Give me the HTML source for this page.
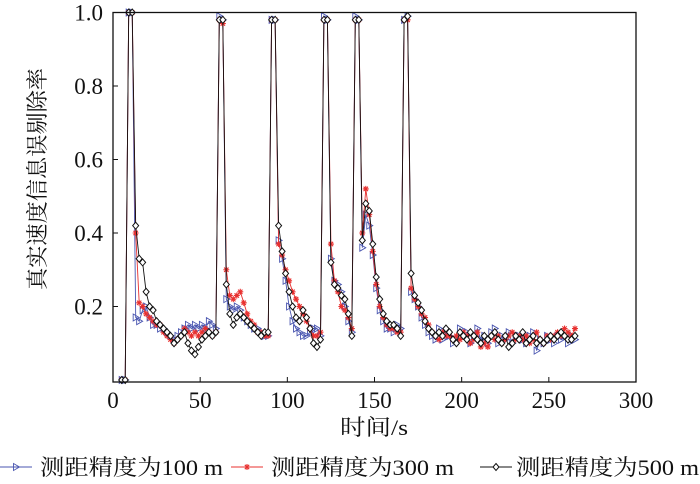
<!DOCTYPE html>
<html><head><meta charset="utf-8">
<style>
html,body{margin:0;padding:0;background:#fff;}
svg{display:block;}
text{font-family:"Liberation Serif","Noto Serif CJK SC",serif;fill:#111;}
</style></head>
<body>
<svg id="chart" width="700" height="484" viewBox="0 0 700 484"></svg>
<script>
const times=[5,7,9,11,13,15,17,19,21,23,25,27,29,31,33,35,37,39,41,43,45,47,49,51,53,55,57,59,61,63,65,67,69,71,73,75,77,79,81,83,85,87,89,91,93,95,97,99,101,103,105,107,109,111,113,115,117,119,121,123,125,127,129,131,133,135,137,139,141,143,145,147,149,151,153,155,157,159,161,163,165,167,169,171,173,175,177,179,181,183,185,187,189,191,193,195,197,199,201,203,205,207,209,211,213,215,217,219,221,223,225,227,229,231,233,235,237,239,241,243,245,247,249,251,253,255,257,259,261,263,265];
const s500=[0,0,1,1,0.42,0.33,0.32,0.24,0.2,0.19,0.16,0.15,0.14,0.13,0.12,0.1,0.11,0.12,0.13,0.1,0.08,0.07,0.09,0.11,0.12,0.13,0.12,0.13,0.98,0.98,0.26,0.18,0.15,0.17,0.18,0.17,0.16,0.15,0.14,0.13,0.12,0.13,0.13,0.98,0.98,0.42,0.35,0.29,0.24,0.2,0.17,0.16,0.19,0.17,0.14,0.1,0.09,0.11,0.98,0.98,0.32,0.26,0.25,0.23,0.22,0.18,0.12,0.98,0.98,0.38,0.48,0.46,0.37,0.28,0.22,0.18,0.16,0.15,0.15,0.14,0.12,0.98,0.99,0.29,0.23,0.21,0.19,0.16,0.14,0.13,0.12,0.13,0.12,0.14,0.13,0.11,0.1,0.13,0.12,0.11,0.13,0.12,0.11,0.1,0.12,0.11,0.12,0.13,0.11,0.1,0.12,0.09,0.1,0.12,0.11,0.13,0.1,0.11,0.12,0.1,0.11,0.1,0.11,0.12,0.11,0.12,0.13,0.12,0.11,0.11,0.12];
const s100=[0,0,1,1,0.17,0.16,0.19,0.2,0.17,0.15,0.15,0.14,0.14,0.13,0.12,0.11,0.12,0.13,0.14,0.15,0.14,0.15,0.14,0.15,0.14,0.16,0.15,0.14,0.99,0.98,0.22,0.2,0.19,0.2,0.19,0.17,0.16,0.15,0.14,0.14,0.13,0.12,0.12,0.98,0.98,0.38,0.33,0.27,0.2,0.16,0.14,0.13,0.12,0.12,0.13,0.14,0.14,0.12,0.99,0.98,0.33,0.27,0.26,0.24,0.2,0.16,0.13,0.99,0.98,0.36,0.45,0.42,0.34,0.25,0.19,0.16,0.14,0.14,0.13,0.15,0.14,0.98,0.99,0.24,0.22,0.2,0.17,0.15,0.13,0.12,0.11,0.14,0.11,0.13,0.12,0.1,0.11,0.14,0.12,0.13,0.1,0.12,0.14,0.11,0.12,0.1,0.13,0.14,0.1,0.12,0.11,0.13,0.1,0.12,0.12,0.11,0.1,0.12,0.13,0.08,0.11,0.1,0.12,0.11,0.1,0.12,0.11,0.12,0.1,0.12,0.11];
const s300=[0,0,1,1,0.4,0.21,0.2,0.18,0.17,0.16,0.15,0.15,0.13,0.12,0.11,0.1,0.11,0.12,0.14,0.13,0.12,0.13,0.12,0.13,0.14,0.13,0.12,0.13,0.98,0.97,0.3,0.23,0.22,0.23,0.24,0.21,0.18,0.16,0.15,0.13,0.13,0.12,0.12,0.98,0.98,0.37,0.34,0.3,0.27,0.24,0.22,0.2,0.18,0.16,0.14,0.12,0.12,0.13,0.98,0.98,0.37,0.27,0.24,0.2,0.19,0.17,0.14,0.98,0.98,0.4,0.52,0.45,0.35,0.26,0.2,0.17,0.15,0.14,0.14,0.13,0.13,0.98,0.98,0.25,0.22,0.2,0.18,0.17,0.15,0.13,0.12,0.11,0.13,0.12,0.12,0.11,0.12,0.11,0.13,0.12,0.1,0.11,0.13,0.09,0.1,0.09,0.12,0.11,0.12,0.1,0.11,0.12,0.13,0.11,0.12,0.11,0.12,0.1,0.11,0.13,0.11,0.1,0.12,0.11,0.12,0.13,0.12,0.14,0.13,0.12,0.14];
const xTicks=[0,50,100,150,200,250,300];
const yTicks=[0.2,0.4,0.6,0.8,1.0];
const yTickLabels=["0.2","0.4","0.6","0.8","1.0"];

const NS="http://www.w3.org/2000/svg";
const svg=document.getElementById('chart');
const L=113,R=636,T=12.5,B=382;
const X=v=>L+(v/300)*(R-L);
const Y=v=>380-(v/1.0)*(380-T);
function mk(tag,attrs,parent){const e=document.createElementNS(NS,tag);for(const k in attrs)e.setAttribute(k,attrs[k]);(parent||svg).appendChild(e);return e;}

const plot=mk('g',{});



function marker(kind,x,y,col,g){
  let m;
  if(kind==='tri'){m=mk('polygon',{points:`${x-2.5},${y-3.5} ${x+3.5},${y} ${x-2.5},${y+3.5}`,fill:'none',stroke:col,'stroke-width':0.9},g);}
  else if(kind==='star'){m=mk('path',{d:`M${x-3},${y}H${x+3}M${x},${y-3}V${y+3}M${x-2.2},${y-2.2}L${x+2.2},${y+2.2}M${x-2.2},${y+2.2}L${x+2.2},${y-2.2}`,stroke:col,'stroke-width':1.1},g);}
  else {m=mk('polygon',{points:`${x},${y-3.5} ${x+3},${y} ${x},${y+3.5} ${x-3},${y}`,fill:'#fff',stroke:col,'stroke-width':1},g);}
  return m;
}
const series=[
  {name:'series-100m',vals:s100,col:'#4a56b0',kind:'tri'},
  {name:'series-300m',vals:s300,col:'#e8302f',kind:'star'},
  {name:'series-500m',vals:s500,col:'#111',kind:'dia'}
];
series.forEach(s=>{
  const g=mk('g',{},plot);
  
  
  const pts=s.vals.map((v,i)=>X(times[i]).toFixed(1)+','+Y(v).toFixed(1)).join(' ');
  const pl=mk('polyline',{points:pts,fill:'none',stroke:s.col,'stroke-width':0.9},g);
  
  
  s.vals.forEach((v,i)=>{
    const m=marker(s.kind,X(times[i]),Y(v),s.col,g);
    
    
  });
});

const frame=mk('rect',{x:L,y:T,width:R-L,height:B-T,fill:'none',stroke:'#111','stroke-width':1.3});



xTicks.forEach(t=>{
  const tk=mk('line',{x1:X(t),x2:X(t),y1:B,y2:B-5,stroke:'#111','stroke-width':1});
  
  
  const tx=mk('text',{x:X(t),y:408,'text-anchor':'middle','font-size':23});
  tx.textContent=t;
  
  
});
yTicks.forEach((t,i)=>{
  const tk=mk('line',{x1:L,x2:L+5,y1:Y(t),y2:Y(t),stroke:'#111','stroke-width':1});
  
  
  const tx=mk('text',{x:103,y:Y(t)+8,'text-anchor':'end','font-size':23});
  tx.textContent=yTickLabels[i];
  
  
});
const xl=mk('text',{x:374,y:435,'text-anchor':'middle','font-size':22,textLength:68,lengthAdjust:'spacingAndGlyphs'});
xl.textContent='时间/s';


const yl=mk('text',{x:0,y:0,'text-anchor':'middle','font-size':22,textLength:222,lengthAdjust:'spacingAndGlyphs',transform:'translate(45,179) rotate(-90)'});
yl.textContent='真实速度信息误剔除率';



const legend=[
  {lx:0,tx:40,label:'测距精度为100 m',col:'#4a56b0',kind:'tri'},
  {lx:231,tx:271,label:'测距精度为300 m',col:'#e8302f',kind:'star'},
  {lx:480,tx:516,label:'测距精度为500 m',col:'#111',kind:'dia'}
];
legend.forEach(e=>{
  const g=mk('g',{});
  
  
  mk('line',{x1:e.lx,x2:e.lx+32,y1:467,y2:467,stroke:e.col,'stroke-width':1},g);
  marker(e.kind,e.lx+16,467,e.col,g);
  const t=mk('text',{x:e.tx,y:475,'font-size':22,textLength:183,lengthAdjust:'spacingAndGlyphs'},g);
  t.textContent=e.label;
});
</script>
</body></html>
